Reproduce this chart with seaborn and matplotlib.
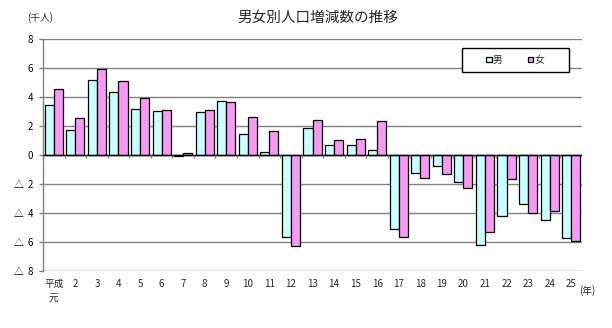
import matplotlib
matplotlib.use("Agg")
import matplotlib.pyplot as plt
from matplotlib.patches import Rectangle
import seaborn as sns
import pandas as pd
import numpy as np

# 平成元年〜25年 男女別人口増減数（千人）
years = ["平成\n元"] + [str(i) for i in range(2, 26)]
male = [3.43, 1.70, 5.15, 4.32, 3.15, 3.01, -0.07, 2.94, 3.70, 1.43,
        0.18, -5.68, 1.84, 0.67, 0.67, 0.32, -5.13, -1.26, -0.76, -1.89,
        -6.23, -4.23, -3.40, -4.51, -5.75]
female = [4.53, 2.53, 5.91, 5.08, 3.91, 3.08, 0.11, 3.08, 3.63, 2.60,
          1.63, -6.30, 2.39, 1.01, 1.08, 2.32, -5.68, -1.61, -1.33, -2.30,
          -5.33, -1.68, -4.02, -3.89, -5.95]
sexes = ["男", "女"]
y_ticks = [8, 6, 4, 2, 0, -2, -4, -6, -8]
y_labels = ["8", "6", "4", "2", "0", "△  2", "△  4", "△  6", "△  8"]

df = pd.DataFrame({
    "年": years * 2,
    "性別": [sexes[0]] * len(years) + [sexes[1]] * len(years),
    "増減数": male + female,
})

sns.set_theme(style="white")
plt.rcParams["font.family"] = ["Noto Sans CJK JP", "DejaVu Sans"]

fig = plt.figure(figsize=(6.12, 3.28), dpi=100)
ax = fig.add_axes([0.0703, 0.174, 0.8807, 0.707])

sns.barplot(data=df, x="年", y="増減数", hue="性別", order=years,
            hue_order=sexes, palette=["#CCFFFF", "#F59AF2"],
            width=0.84, edgecolor="black", linewidth=0.9,
            saturation=1, ax=ax, zorder=3)

ax.set_xlim(-0.5, len(years) - 0.5)
ax.set_ylim(-8, 8)
ax.set_yticks(y_ticks)
ax.set_yticklabels(y_labels, fontsize=7)
ax.set_xlabel("")
ax.set_ylabel("")
ax.grid(axis="y", color="#808080", linewidth=1.0, zorder=0)
ax.grid(axis="x", visible=False)

for side in ["top", "right", "bottom"]:
    ax.spines[side].set_visible(False)
ax.spines["left"].set_color("#808080")
ax.spines["left"].set_linewidth(1.0)
ax.tick_params(axis="y", left=True, length=3, width=1.0, color="#808080",
               pad=4, labelcolor="black")
ax.tick_params(axis="x", bottom=False, length=0, pad=6, labelsize=7)

# zero baseline with small category-boundary ticks
ax.axhline(0, color="black", linewidth=1.0, zorder=4)
bounds = np.arange(len(years) + 1) - 0.5
ax.vlines(bounds, -0.22, 0, color="#808080", linewidth=1.0, zorder=4)

for lab in ax.get_xticklabels():
    lab.set_verticalalignment("top")
    lab.set_linespacing(1.4)

# legend: square frame drawn separately, entries centred inside it
box = Rectangle((0.777, 0.858), 0.199, 0.104, transform=ax.transAxes,
                facecolor="white", edgecolor="black", linewidth=1.0,
                zorder=5)
ax.add_patch(box)
leg = ax.legend(loc="center", bbox_to_anchor=(0.8765, 0.91), ncol=2,
                frameon=False, fontsize=7,
                handlelength=0.55, handleheight=0.55, handletextpad=0.15,
                columnspacing=2.6, borderpad=0, borderaxespad=0)
leg.set_zorder(6)

fig.text(0.52, 0.945, "男女別人口増減数の推移", ha="center", va="center",
         fontsize=10.5)
fig.text(0.065, 0.947, "(千人)", ha="center", va="center", fontsize=7)
fig.text(0.959, 0.113, "(年)", ha="center", va="center", fontsize=7)

fig.savefig("out.png", dpi=100, facecolor="white")
